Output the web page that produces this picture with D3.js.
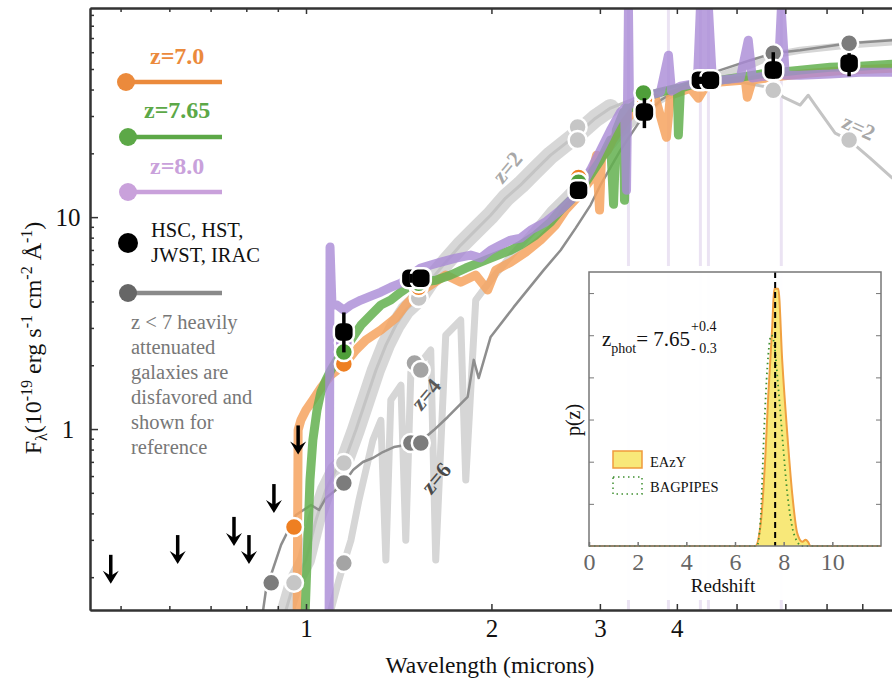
<!DOCTYPE html>
<html lang="en">
<head>
<meta charset="UTF-8">
<title>SED fit</title>
</head>
<body style="margin:0; background:#fff;">
<svg id="sed" width="892" height="684" style="display:block;"></svg>
<script src="https://d3js.org/d3.v7.min.js"></script>
<script>
// model spectra : [wavelength (micron), F_lambda (1e-19 erg/s/cm2/A)]
var specZ70 = [
  [0.967, 0.10], [0.971, 0.99], [0.981, 1.10], [1.000, 1.23], [1.026, 1.37], [1.057, 1.56],
  [1.098, 1.80], [1.152, 2.00], [1.205, 2.36], [1.251, 2.63], [1.323, 2.93], [1.399, 3.34],
  [1.452, 3.85], [1.524, 4.43], [1.594, 4.78], [1.686, 5.33], [1.783, 4.93], [1.886, 5.33],
  [1.972, 4.53], [2.032, 5.62], [2.149, 6.13], [2.273, 6.83], [2.404, 7.79], [2.542, 9.17],
  [2.639, 10.8], [2.770, 12.6], [2.897, 15.0], [2.963, 19.6], [2.996, 10.8], [3.018, 19.0],
  [3.087, 20.7], [3.145, 23.1], [3.240, 26.3], [3.388, 31.3], [3.491, 33.8], [3.692, 36.4],
  [3.847, 23.8], [3.905, 37.6], [4.207, 40.6], [4.335, 36.4], [4.467, 42.0], [4.706, 43.4],
  [5.166, 44.3], [5.205, 36.8], [5.303, 44.3], [5.888, 46.2], [6.584, 47.8], [7.644, 49.4], [8.943, 50.4]
];
var specZ765 = [
  [0.993, 0.10], [1.004, 0.241], [1.015, 0.575], [1.026, 0.887], [1.042, 1.23], [1.057, 1.49],
  [1.077, 1.70], [1.098, 1.90], [1.123, 2.12], [1.152, 2.31], [1.183, 2.63], [1.228, 3.09],
  [1.274, 3.45], [1.323, 3.85], [1.373, 4.06], [1.426, 4.43], [1.480, 4.78], [1.536, 4.93],
  [1.624, 5.04], [1.718, 5.33], [1.817, 5.75], [1.921, 6.13], [2.032, 6.55], [2.149, 6.98],
  [2.231, 7.38], [2.359, 8.22], [2.495, 9.48], [2.590, 10.8], [2.689, 12.0], [2.791, 13.4],
  [2.897, 15.8], [3.007, 18.6], [3.121, 23.1], [3.157, 11.5], [3.190, 25.7], [3.277, 31.3],
  [3.289, 12.0], [3.314, 32.7], [3.363, 32.7], [3.491, 35.6], [3.624, 37.6], [3.762, 38.9],
  [4.008, 40.6], [4.023, 24.4], [4.054, 40.6], [4.368, 43.4], [4.706, 44.3], [5.070, 45.7],
  [5.464, 47.3], [5.888, 48.3], [6.343, 49.4], [7.095, 51.0], [7.935, 51.5], [8.943, 52.7]
];
var specZ80 = [
  [1.090, 0.10], [1.094, 7.22], [1.102, 3.85], [1.123, 3.85], [1.152, 3.64], [1.183, 3.85],
  [1.228, 4.06], [1.274, 4.24], [1.323, 4.43], [1.373, 4.67], [1.426, 4.88], [1.480, 5.33],
  [1.536, 5.75], [1.594, 5.94], [1.655, 6.13], [1.751, 6.41], [1.851, 6.62], [1.921, 6.41],
  [1.994, 6.98], [2.070, 7.38], [2.149, 7.79], [2.231, 7.96], [2.316, 8.68], [2.449, 9.48],
  [2.590, 10.8], [2.689, 12.0], [2.791, 13.7], [2.897, 16.7], [3.007, 20.7], [3.121, 25.7],
  [3.240, 31.3], [3.289, 32.7], [3.314, 13.4], [3.326, 33.8], [3.338, 97], [3.351, 33.8],
  [3.439, 35.6], [3.530, 36.8], [3.762, 38.9], [3.876, 58.1], [3.920, 39.3], [4.054, 41.5],
  [4.318, 42.9], [4.368, 97], [4.434, 43.4], [4.501, 97], [4.568, 44.3], [4.706, 44.3],
  [5.070, 45.3], [5.224, 68.4], [5.303, 45.3], [5.843, 47.3], [5.910, 94.7], [5.998, 46.7],
  [6.343, 46.7], [7.095, 47.3], [7.935, 48.3], [8.943, 48.3]
];
var specZ2 = [
  [0.928, 0.140], [0.956, 0.188], [1.000, 0.241], [1.038, 0.372], [1.077, 0.516], [1.118, 0.641],
  [1.152, 0.691], [1.205, 0.989], [1.251, 1.37], [1.299, 1.90], [1.348, 2.49], [1.399, 3.09],
  [1.452, 3.64], [1.524, 4.15], [1.594, 5.04], [1.686, 6.13], [1.783, 7.38], [1.886, 8.68],
  [1.994, 10.2], [2.109, 12.3], [2.231, 14.2], [2.359, 16.7], [2.495, 19.6], [2.639, 22.3],
  [2.760, 24.7], [2.951, 29.3], [3.121, 32.7], [3.363, 35.6], [3.624, 38.9], [4.054, 42.0],
  [4.467, 43.4], [5.070, 43.4], [5.735, 40.6], [5.954, 36.8], [6.343, 33.8], [6.535, 37.6],
  [6.708, 33.8], [7.228, 24.9], [7.616, 23.1], [8.237, 19.0], [8.943, 15.3]
];
var specZ4 = [
  [1.098, 0.140], [1.131, 0.194], [1.152, 0.233], [1.183, 0.299], [1.219, 0.463], [1.251, 0.641],
  [1.284, 0.887], [1.323, 1.10], [1.348, 0.241], [1.373, 1.37], [1.426, 1.61], [1.452, 0.299],
  [1.480, 1.86], [1.524, 2.00], [1.594, 2.36], [1.624, 0.241], [1.686, 2.77], [1.783, 3.27],
  [1.817, 0.575], [1.886, 4.06], [1.994, 5.04], [2.109, 6.13], [2.231, 7.38], [2.359, 8.87],
  [2.495, 10.8], [2.639, 12.7], [2.791, 15.0], [3.007, 18.6], [3.240, 24.4], [3.491, 30.3],
  [3.762, 35.6], [4.207, 42.0], [4.706, 46.7], [5.264, 52.1], [5.735, 58.1], [6.343, 61.3],
  [7.616, 64.8], [8.943, 67.0]
];
var specZ6 = [
  [0.852, 0.140], [0.861, 0.174], [0.911, 0.284], [0.963, 0.393], [1.019, 0.438], [1.050, 0.415],
  [1.077, 0.473], [1.118, 0.516], [1.152, 0.556], [1.192, 0.641], [1.237, 0.699], [1.284, 0.730],
  [1.333, 0.779], [1.389, 0.822], [1.452, 0.841], [1.524, 0.859], [1.613, 0.989], [1.699, 1.14],
  [1.830, 1.42], [1.872, 2.12], [1.907, 1.74], [1.994, 2.72], [2.173, 3.76], [2.431, 5.62],
  [2.590, 6.98], [2.740, 8.87], [2.897, 11.4], [3.007, 14.2], [3.240, 20.7], [3.491, 28.7],
  [3.762, 35.6], [4.207, 43.4], [4.706, 49.4], [5.264, 55.0], [5.735, 59.4], [6.343, 61.3],
  [7.616, 66.2], [8.943, 68.4]
];

// model photometry
var photZ70 = [[0.956, 0.345], [1.152, 2.03], [1.524, 4.67], [2.770, 15.4], [3.543, 36.0], [4.467, 44.3], [5.735, 49.4], [7.616, 53.2]];
var photZ765 = [[1.152, 2.31], [1.524, 4.88], [2.770, 14.6], [3.530, 38.5], [4.467, 44.3], [5.735, 49.4], [7.616, 53.2]];
var photZ80 = [[1.152, 2.55], [1.524, 5.0], [2.770, 14.0], [3.543, 34.5], [4.467, 44.3], [5.735, 49.4], [7.616, 53.2]];
var photZ2 = [[0.956, 0.188], [1.152, 0.691], [1.524, 4.15], [2.760, 26.6], [2.760, 23.1], [5.735, 39.7], [7.616, 23.1]];
var photZ4 = [[1.152, 0.233], [1.500, 2.05], [1.536, 1.90]];
var photZ6 = [[0.878, 0.188], [1.152, 0.556], [1.480, 0.859], [1.536, 0.859], [5.735, 59.4], [7.616, 66.2]];

// observed photometry (HSC, HST, JWST, IRAC)
var obsLam  = [1.152, 1.480, 1.536, 2.770, 3.543, 4.368, 4.535, 5.735, 7.616];
var obsFlux = [2.87, 5.15, 5.15, 13.4, 31.3, 44.3, 44.3, 49.4, 53.2];
var obsLo   = [2.30, 4.9, 4.9, 12.8, 26.3, 42.5, 42.5, 45.0, 46.2];
var obsHi   = [3.55, 5.4, 5.4, 14.0, 36.4, 46.0, 46.0, 60.0, 59.4];

// upper limits
var ulLam  = [0.482, 0.619, 0.764, 0.808, 0.887, 0.971];
var ulFlux = [0.255, 0.316, 0.385, 0.316, 0.55, 1.04];

// faint emission line traces
var lineLam = [3.338, 3.876, 4.368, 4.501, 5.91];

// ticks
var xTicks = [1, 2, 3, 4, 5, 6, 7, 8];
var xMinor = [0.5, 0.6, 0.7, 0.8, 0.9];
var xTickLabels = [1, 2, 3, 4];
var yTicks = [1, 10];
var yMinor = [0.2, 0.3, 0.4, 0.5, 0.6, 0.7, 0.8, 0.9, 2, 3, 4, 5, 6, 7, 8, 9, 20, 30, 40, 50, 60, 70, 80, 90];

// annotations on the gray curves
var zNotes = [
  {t: "z=2", lam: 2.12, f: 17.2, rot: -50, c: "#a8a8a8"},
  {t: "z=2", lam: 7.90, f: 26.6, rot: 25, c: "#a8a8a8"},
  {t: "z=4", lam: 1.565, f: 1.46, rot: -50, c: "#5a5a5a"},
  {t: "z=6", lam: 1.624, f: 0.587, rot: -50, c: "#4a4a4a"}
];

// p(z) inset
var pzEazyZ = [0, 6.5, 6.83, 7.04, 7.24, 7.37, 7.53, 7.61, 7.78, 7.94, 8.15, 8.35, 8.56, 8.77, 8.9, 9.0, 9.1, 12];
var pzEazy  = [0, 0, 0, 0.09, 0.41, 0.72, 1.04, 1.22, 1.22, 0.88, 0.53, 0.25, 0.06, 0.02, 0.03, 0.02, 0, 0];
var pzBagZ = [0, 6.9, 7.04, 7.2, 7.33, 7.49, 7.61, 7.78, 7.98, 8.15, 8.35, 8.56, 8.75, 12];
var pzBag  = [0, 0, 0.11, 0.56, 0.85, 1.0, 0.96, 0.75, 0.47, 0.25, 0.09, 0.02, 0, 0];
var pzTicksX = [0, 2, 4, 6, 8, 10];
var pzTicksY = [0.2, 0.4, 0.6, 0.8, 1.0, 1.2];
var zPhot = 7.65;

var serif = "'Liberation Serif', serif";

var svg = d3.select("#sed"),
  plotL = 90, plotR = 892, plotT = 8, plotB = 610;

var x = d3.scaleLog().domain([0.446, 8.94]).range([plotL, plotR]),
  y = d3.scaleLog().domain([0.14, 97]).range([plotB, plotT]);

svg.append("defs").append("clipPath").attr("id", "clip")
  .append("rect").attr("x", plotL).attr("y", plotT)
  .attr("width", plotR - plotL).attr("height", plotB - plotT);

var plot = svg.append("g").attr("clip-path", "url(#clip)");

var line = d3.line()
  .x(function (d) { return x(d[0]); })
  .y(function (d) { return y(d[1]); });

plot.selectAll(".eline").data(lineLam).enter().append("line")
  .attr("x1", function (d) { return x(d); })
  .attr("x2", function (d) { return x(d); })
  .attr("y1", plotT).attr("y2", plotB)
  .attr("stroke", "#ebe3f3").attr("stroke-width", 3);

function drawSpec(data, color, width, opacity) {
  plot.append("path").datum(data).attr("d", line)
    .attr("fill", "none")
    .attr("stroke", color)
    .attr("stroke-width", width)
    .attr("stroke-opacity", opacity)
    .attr("stroke-linejoin", "round")
    .attr("stroke-linecap", "round");
}

drawSpec(specZ4, "#d6d6d6", 7, 1);
drawSpec(specZ2.filter(function (d) { return d[0] < 3.2; }), "#d0d0d0", 18, 0.85);
drawSpec(specZ2, "#c4c4c4", 3, 1);
drawSpec(specZ6, "#8e8e8e", 2.5, 1);
drawSpec(specZ70, "#f6a35f", 9, 0.85);
drawSpec(specZ765, "#63b04f", 9, 0.85);
drawSpec(specZ80, "#a98ad6", 9, 0.8);

function drawPhot(data, color) {
  plot.selectAll(null).data(data).enter().append("circle")
    .attr("cx", function (d) { return x(d[0]); })
    .attr("cy", function (d) { return y(d[1]); })
    .attr("r", 9)
    .attr("fill", color)
    .attr("stroke", "#fff")
    .attr("stroke-width", 2.5);
}

drawPhot(photZ2, "#c6c6c6");
drawPhot(photZ4, "#a4a4a4");
drawPhot(photZ6, "#7c7c7c");
drawPhot(photZ80, "#b08ad8");
drawPhot(photZ70, "#ee7f22");
drawPhot(photZ765, "#4f9f3a");

// observed points
var obs = obsLam.map(function (l, i) {
  return {lam: l, f: obsFlux[i], lo: obsLo[i], hi: obsHi[i]};
});
plot.selectAll(".obs").data(obs).enter().append("rect")
  .attr("x", function (d) { return x(d.lam) - 10; })
  .attr("y", function (d) { return y(d.f) - 10; })
  .attr("width", 20).attr("height", 20).attr("rx", 7)
  .attr("fill", "#000").attr("stroke", "#fff").attr("stroke-width", 2.5);
plot.selectAll(".err").data(obs).enter().append("line")
  .attr("x1", function (d) { return x(d.lam); })
  .attr("x2", function (d) { return x(d.lam); })
  .attr("y1", function (d) { return y(d.hi); })
  .attr("y2", function (d) { return y(d.lo); })
  .attr("stroke", "#000").attr("stroke-width", 3.5);

// upper limit arrows
var ul = ulLam.map(function (l, i) { return {lam: l, f: ulFlux[i]}; });
plot.selectAll(".ul").data(ul).enter().append("line")
  .attr("x1", function (d) { return x(d.lam); })
  .attr("x2", function (d) { return x(d.lam); })
  .attr("y1", function (d) { return y(d.f); })
  .attr("y2", function (d) { return y(d.f) + 22; })
  .attr("stroke", "#000").attr("stroke-width", 3.5);
plot.selectAll(".ulhead").data(ul).enter().append("path")
  .attr("d", function (d) {
    var cx = x(d.lam), tip = y(d.f) + 29;
    return "M" + (cx - 8) + "," + (tip - 13) + "L" + cx + "," + tip +
      "L" + (cx + 8) + "," + (tip - 13) + "L" + cx + "," + (tip - 8) + "Z";
  })
  .attr("fill", "#000");

svg.selectAll(".znote").data(zNotes).enter().append("text")
  .attr("transform", function (d) {
    return "translate(" + x(d.lam) + "," + y(d.f) + ") rotate(" + d.rot + ")";
  })
  .attr("text-anchor", "middle").attr("dy", "0.35em")
  .attr("font-size", 22).attr("font-weight", "bold")
  .attr("fill", function (d) { return d.c; })
  .text(function (d) { return d.t; });

// axes
function styleAxis(g, size) {
  g.attr("font-size", size);
  g.select(".domain").attr("stroke", "#333").attr("stroke-width", 2);
  g.selectAll(".tick line").attr("stroke", "#333").attr("stroke-width", 1.5);
  g.selectAll(".tick text").attr("fill", "#111");
}

var gx = svg.append("g").attr("transform", "translate(0," + plotB + ")")
  .call(d3.axisBottom(x).tickValues(xTicks).tickSize(-6).tickSizeOuter(0).tickPadding(9)
    .tickFormat(function (d) { return xTickLabels.indexOf(d) >= 0 ? d : ""; }));
styleAxis(gx, 25);
var gxm = svg.append("g").attr("transform", "translate(0," + plotB + ")")
  .call(d3.axisBottom(x).tickValues(xMinor).tickSize(-4).tickSizeOuter(0).tickFormat(""));
styleAxis(gxm, 25);

var gt = svg.append("g").attr("transform", "translate(0," + plotT + ")")
  .call(d3.axisTop(x).tickValues(xTicks).tickSize(-6).tickSizeOuter(0).tickFormat(""));
styleAxis(gt, 25);
var gtm = svg.append("g").attr("transform", "translate(0," + plotT + ")")
  .call(d3.axisTop(x).tickValues(xMinor).tickSize(-4).tickSizeOuter(0).tickFormat(""));
styleAxis(gtm, 25);

var gy = svg.append("g").attr("transform", "translate(" + plotL + ",0)")
  .call(d3.axisLeft(y).tickValues(yTicks).tickSize(-8).tickSizeOuter(0).tickPadding(22)
    .tickFormat(d3.format("d")));
styleAxis(gy, 25);
gy.selectAll(".tick text").attr("text-anchor", "middle");
var gym = svg.append("g").attr("transform", "translate(" + plotL + ",0)")
  .call(d3.axisLeft(y).tickValues(yMinor).tickSize(-4).tickSizeOuter(0).tickFormat(""));
styleAxis(gym, 25);

svg.append("text")
  .attr("x", 490).attr("y", 673)
  .attr("text-anchor", "middle").attr("font-size", 23.5).attr("fill", "#111")
  .text("Wavelength (microns)");

var yTitle = svg.append("text")
  .attr("transform", "translate(41,338) rotate(-90)")
  .attr("text-anchor", "middle").attr("font-size", 24).attr("fill", "#111");
yTitle.append("tspan").text("F");
yTitle.append("tspan").attr("font-size", 16).attr("dy", 6).text("λ");
yTitle.append("tspan").attr("dy", -6).text("(10");
yTitle.append("tspan").attr("font-size", 16).attr("dy", -9).text("-19");
yTitle.append("tspan").attr("dy", 9).text(" erg s");
yTitle.append("tspan").attr("font-size", 16).attr("dy", -9).text("-1");
yTitle.append("tspan").attr("dy", 9).text(" cm");
yTitle.append("tspan").attr("font-size", 16).attr("dy", -9).text("-2");
yTitle.append("tspan").attr("dy", 9).text(" Å");
yTitle.append("tspan").attr("font-size", 16).attr("dy", -9).text("-1");
yTitle.append("tspan").attr("dy", 9).text(")");

// legend
var leg = svg.append("g");
var legModels = [
  {t: "z=7.0", c: "#eb8a3c", tx: 150, ty: 64, ly: 82, cx: 126},
  {t: "z=7.65", c: "#5ca847", tx: 144, ty: 118, ly: 137, cx: 128},
  {t: "z=8.0", c: "#c9a1db", tx: 150, ty: 174, ly: 192, cx: 128}
];
legModels.forEach(function (m) {
  leg.append("text").attr("x", m.tx).attr("y", m.ty)
    .attr("font-size", 24).attr("font-weight", "bold").attr("fill", m.c).text(m.t);
  leg.append("line").attr("x1", m.cx).attr("x2", 222).attr("y1", m.ly).attr("y2", m.ly)
    .attr("stroke", m.c).attr("stroke-width", 4.5);
  leg.append("circle").attr("cx", m.cx).attr("cy", m.ly).attr("r", 9).attr("fill", m.c);
});
leg.append("circle").attr("cx", 128).attr("cy", 243).attr("r", 10).attr("fill", "#000");
leg.append("text").attr("x", 151).attr("y", 237).attr("font-size", 20.5).attr("fill", "#111").text("HSC, HST,");
leg.append("text").attr("x", 151).attr("y", 262).attr("font-size", 20.5).attr("fill", "#111").text("JWST, IRAC");
leg.append("line").attr("x1", 128).attr("x2", 222).attr("y1", 293).attr("y2", 293)
  .attr("stroke", "#8a8a8a").attr("stroke-width", 4.5);
leg.append("circle").attr("cx", 128).attr("cy", 293).attr("r", 9).attr("fill", "#666");
["z < 7 heavily", "attenuated", "galaxies are", "disfavored and", "shown for", "reference"]
  .forEach(function (s, i) {
    leg.append("text").attr("x", 131).attr("y", 329 + i * 25)
      .attr("font-size", 20.5).attr("fill", "#777").text(s);
  });

// inset p(z)
var ix = d3.scaleLinear().domain([0, 12]).range([589, 881]),
  iy = d3.scaleLinear().domain([0, 1.3]).range([546, 272]);

svg.append("rect").attr("x", 568).attr("y", 266).attr("width", 324).attr("height", 334)
  .attr("fill", "#fff").attr("fill-opacity", 0.95);

var eazy = pzEazyZ.map(function (z, i) { return {z: z, p: pzEazy[i]}; }),
  bag = pzBagZ.map(function (z, i) { return {z: z, p: pzBag[i]}; });

var pArea = d3.area().curve(d3.curveMonotoneX)
  .x(function (d) { return ix(d.z); }).y0(iy(0)).y1(function (d) { return iy(d.p); });
var pLine = d3.line().curve(d3.curveMonotoneX)
  .x(function (d) { return ix(d.z); }).y(function (d) { return iy(d.p); });

svg.append("path").datum(eazy).attr("d", pArea).attr("fill", "#f8e879");
svg.append("path").datum(eazy).attr("d", pLine).attr("fill", "none")
  .attr("stroke", "#f0a040").attr("stroke-width", 2);
svg.append("path").datum(bag).attr("d", pLine).attr("fill", "none")
  .attr("stroke", "#3f8f30").attr("stroke-width", 1.8).attr("stroke-dasharray", "1.5,3.5");

svg.append("line").attr("x1", ix(zPhot)).attr("x2", ix(zPhot))
  .attr("y1", iy(1.3)).attr("y2", iy(0))
  .attr("stroke", "#000").attr("stroke-width", 2).attr("stroke-dasharray", "6,4");

var gix = svg.append("g").attr("transform", "translate(0,546)")
  .call(d3.axisBottom(ix).tickValues(pzTicksX).tickSize(-4).tickSizeOuter(0).tickPadding(7));
styleAxis(gix, 24);
gix.select(".domain").remove();
gix.selectAll(".tick line").attr("stroke", "#777");
gix.selectAll(".tick text").attr("fill", "#666");
var giy = svg.append("g").attr("transform", "translate(589,0)")
  .call(d3.axisLeft(iy).tickValues(pzTicksY).tickSize(-5).tickFormat(""));
giy.select(".domain").remove();
giy.selectAll(".tick line").attr("stroke", "#777");
var giy2 = svg.append("g").attr("transform", "translate(881,0)")
  .call(d3.axisRight(iy).tickValues(pzTicksY).tickSize(-5).tickFormat(""));
giy2.select(".domain").remove();
giy2.selectAll(".tick line").attr("stroke", "#777");

svg.append("rect").attr("x", 589).attr("y", 272).attr("width", 292).attr("height", 274)
  .attr("fill", "none").attr("stroke", "#777").attr("stroke-width", 1.5);

svg.append("text").attr("x", 723).attr("y", 592).attr("text-anchor", "middle")
  .attr("font-size", 19).attr("fill", "#111").text("Redshift");
svg.append("text").attr("transform", "translate(580,420) rotate(-90)")
  .attr("text-anchor", "middle").attr("font-size", 20).attr("fill", "#111").text("p(z)");

var zt = svg.append("text").attr("x", 602).attr("y", 346).attr("font-size", 21).attr("fill", "#111")
  .style("font-family", serif);
zt.append("tspan").text("z");
zt.append("tspan").attr("font-size", 14).attr("dy", 7).text("phot");
zt.append("tspan").attr("dy", -7).text("= 7.65");
var zb = zt.node().getBBox();
svg.append("text").attr("x", zb.x + zb.width + 1).attr("y", 331)
  .attr("font-size", 14).attr("fill", "#111").text("+0.4");
svg.append("text").attr("x", zb.x + zb.width + 1).attr("y", 353)
  .attr("font-size", 14).attr("fill", "#111").text("- 0.3");

svg.append("rect").attr("x", 613).attr("y", 451).attr("width", 29).attr("height", 17)
  .attr("fill", "#f8e879").attr("stroke", "#ef9a3c").attr("stroke-width", 1.5);
svg.append("text").attr("x", 650).attr("y", 467).attr("font-size", 14.5).attr("fill", "#111").text("EAzY");
svg.append("rect").attr("x", 613).attr("y", 477).attr("width", 29).attr("height", 17)
  .attr("fill", "none").attr("stroke", "#3f8f30").attr("stroke-width", 1.5)
  .attr("stroke-dasharray", "1.5,3.5");
svg.append("text").attr("x", 650).attr("y", 492).attr("font-size", 14.5).attr("fill", "#111").text("BAGPIPES");

// serif everywhere
svg.selectAll("text, tspan").style("font-family", serif);
</script>
</body>
</html>
